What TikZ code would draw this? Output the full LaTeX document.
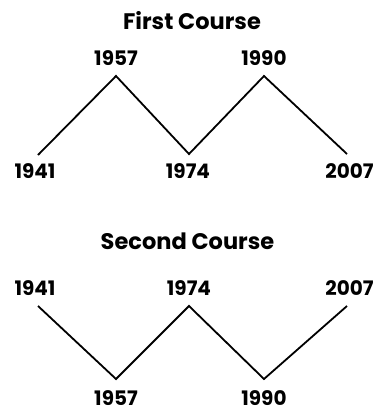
\documentclass[tikz,border=0pt]{standalone}
\usepackage{fontspec}
\setmainfont{Poppins}
\usetikzlibrary{positioning}

\tikzset{
  course/.style={black, line width=1.8pt},
  year/.style={font=\bfseries\fontsize{20}{24}\selectfont, inner sep=0pt},
  heading/.style={font=\bfseries\fontsize{22.5}{26}\selectfont, inner sep=0pt}
}

\begin{document}
\begin{tikzpicture}[x=1pt,y=-1pt]
\useasboundingbox (0,0) rectangle (376,410);
% first course
\node[heading] (first) at (192,20.5) {First Course};
\coordinate (f41) at (38,155);
\coordinate (f57) at (116,76);
\coordinate (f74) at (189,154);
\coordinate (f90) at (264,76);
\coordinate (f07) at (347,154);
\draw[course] (f41) -- (f57) -- (f74) -- (f90) -- (f07);
\node[year] (fy41) at (35,171.5) {1941};
\node[year] (fy57) at (116,58.5) {1957};
\node[year] (fy74) at (188,171.5) {1974};
\node[year] (fy90) at (264,58.5) {1990};
\node[year] (fy07) at (349.5,171.5) {2007};
% second course
\node[heading] (second) at (187.5,241) {Second Course};
\coordinate (s41) at (38,306);
\coordinate (s57) at (116,379);
\coordinate (s74) at (189,306);
\coordinate (s90) at (264,379);
\coordinate (s07) at (347,306);
\draw[course] (s41) -- (s57) -- (s74) -- (s90) -- (s07);
\node[year] (sy41) at (35,288.5) {1941};
\node[year] (sy74) at (189,288.5) {1974};
\node[year] (sy07) at (349.5,288.5) {2007};
\node[year] (sy57) at (116,398) {1957};
\node[year] (sy90) at (264,398) {1990};
\end{tikzpicture}
\end{document}
